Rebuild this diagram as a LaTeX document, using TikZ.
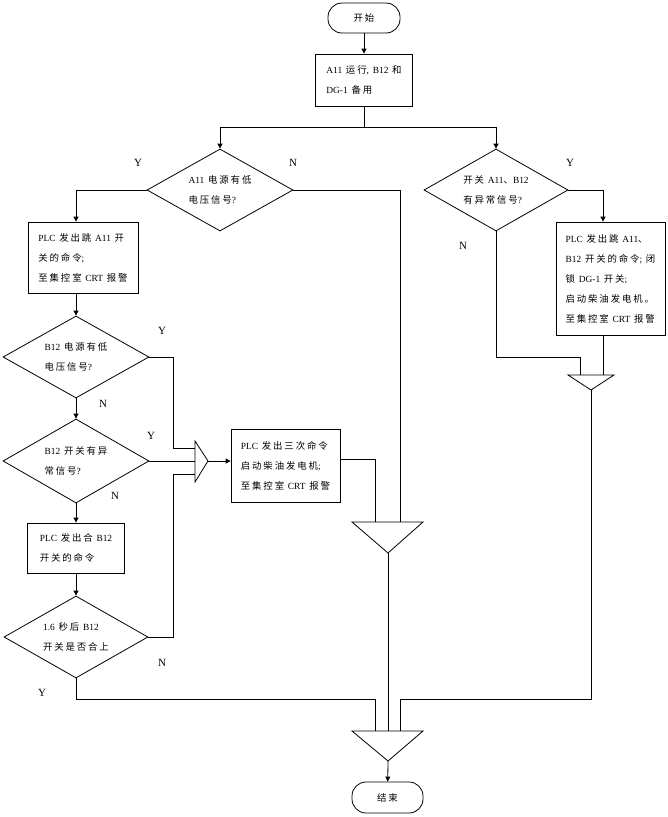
\documentclass[tikz,border=0pt]{standalone}
\usepackage{fontspec}
\setmainfont{Liberation Serif}[WordSpace=1.6]
\newfontfamily\cjk[LetterSpace=20]{Noto Sans CJK SC}
\newcommand{\zh}[1]{{\cjk #1}}
\usetikzlibrary{arrows.meta}
\usetikzlibrary{shapes.geometric}

\begin{document}
\begin{tikzpicture}[x=1pt,y=-1pt,line width=0.8pt,
  every node/.style={font=\fontsize{9.4}{20}\selectfont},
  stepbox/.style={draw,rectangle,align=left,inner sep=0pt},
  decision/.style={draw,diamond,align=left,inner sep=0pt,aspect=1.8},
  terminal/.style={draw,rectangle,rounded corners=14pt,minimum width=72pt,minimum height=30pt},
  yn/.style={font=\fontsize{11}{11}\selectfont},
  flow/.style={-{Triangle[length=5pt,width=5pt]}}]
\useasboundingbox (0,0) rectangle (667,817);

\node[terminal] (start) at (364,18) {\zh{开始}};
\node[stepbox,minimum width=97pt,minimum height=52pt] (a1) at (364,80) {A11 \zh{运行}, B12 \zh{和}\\DG-1 \zh{备用}};
\coordinate (br) at (364,127);

\node[decision,minimum width=146pt,minimum height=82pt] (dA11) at (220,190) {A11 \zh{电源有低}\\\zh{电压信号}?};
\node[decision,minimum width=144pt,minimum height=82pt] (dSw) at (496,190) {\zh{开关} A11\zh{、}B12\\\zh{有异常信号}?};

\node[stepbox,minimum width=110pt,minimum height=71pt] (trip) at (83,257.5) {PLC \zh{发出跳} A11 \zh{开}\\\zh{关的命令};\\\zh{至集控室} CRT \zh{报警}};
\node[stepbox,minimum width=109pt,minimum height=113pt] (alarm) at (610.5,278.5) {PLC \zh{发出跳} A11\zh{、}\\B12 \zh{开关的命令}; \zh{闭}\\\zh{锁} DG-1 \zh{开关};\\\zh{启动柴油发电机。}\\\zh{至集控室} CRT \zh{报警}};

\node[decision,minimum width=146pt,minimum height=82pt] (dB12v) at (76,357) {B12 \zh{电源有低}\\\zh{电压信号}?};
\node[decision,minimum width=146pt,minimum height=84pt] (dB12s) at (76,461) {B12 \zh{开关有异}\\\zh{常信号}?};
\node[stepbox,minimum width=97pt,minimum height=50pt] (close) at (76,548) {PLC \zh{发出合} B12\\\zh{开关的命令}};
\node[decision,minimum width=144pt,minimum height=82pt] (d16) at (76,637) {1.6 \zh{秒后} B12\\\zh{开关是否合上}};

\node[stepbox,minimum width=109pt,minimum height=73pt] (start3) at (285.5,465.5) {PLC \zh{发出三次命令}\\\zh{启动柴油发电机};\\\zh{至集控室} CRT \zh{报警}};
\node[terminal,minimum width=71pt,minimum height=31pt] (end) at (387.5,797.5) {\zh{结束}};

% merge triangles
\coordinate (ltT) at (195,441); \coordinate (ltB) at (195,482); \coordinate (ltA) at (208,461);
\coordinate (ltIn1) at (195,448); \coordinate (ltIn2) at (195,461); \coordinate (ltIn3) at (195,474);
\draw (ltT) -- (ltA) -- (ltB) -- cycle;
\coordinate (rtL) at (568,375); \coordinate (rtR) at (614,375); \coordinate (rtA) at (591,390);
\coordinate (rtIn1) at (580,375); \coordinate (rtIn2) at (603,375);
\draw (rtL) -- (rtR) -- (rtA) -- cycle;
\coordinate (mtL) at (352,522); \coordinate (mtR) at (423,522); \coordinate (mtA) at (388,553);
\coordinate (mtIn1) at (375,522); \coordinate (mtIn2) at (400,522);
\draw (mtL) -- (mtR) -- (mtA) -- cycle;
\coordinate (btL) at (352,731); \coordinate (btR) at (423,731); \coordinate (btA) at (388,761);
\coordinate (btIn1) at (375,731); \coordinate (btIn2) at (388,731); \coordinate (btIn3) at (400,731);
\draw (btL) -- (btR) -- (btA) -- cycle;
\coordinate (low) at (0,699);

\draw[flow] (start) -- (a1);
\draw (a1) -- (br);
\draw[flow] (br) -| (dA11.north);
\draw[flow] (br) -| (dSw.north);
\draw[flow] (dA11.west) -| (dB12v.north |- trip.north);
\draw (dA11.east) -| (mtIn2);
\draw[flow] (dSw.east) -| ([xshift=-7.5pt]alarm.north);
\draw (dSw.south) -- ++(0,126) -| (rtIn1);
\draw ([xshift=-7.5pt]alarm.south) -- (rtIn2);
\draw (rtA) |- (btIn3 |- low) -- (btIn3);

\draw[flow] (dB12v.north |- trip.south) -- (dB12v.north);
\draw[flow] (dB12v) -- (dB12s);
\draw (dB12v.east) -- ++(24,0) |- (ltIn1);
\draw (dB12s.east) -- (ltIn2);
\draw[flow] (dB12s) -- (close);
\draw[flow] (close) -- (d16);
\draw (d16.east) -- ++(25,0) |- (ltIn3);
\draw (d16.south) |- (btIn1 |- low) -- (btIn1);
\draw[flow] (ltA) -- (ltA -| start3.west);
\draw ([yshift=6pt]start3.east) -| (mtIn1);
\draw (mtA) -- (btIn2);
\draw[flow] (btA) -- (end);

\node[yn] (yA) at (138,163) {Y};
\node[yn] (nA) at (293,163) {N};
\node[yn] (yS) at (570,163) {Y};
\node[yn] (nS) at (463,246) {N};
\node[yn] (yV) at (162,331) {Y};
\node[yn] (nV) at (103,404) {N};
\node[yn] (yB) at (151,436) {Y};
\node[yn] (nB) at (115,496) {N};
\node[yn] (n16) at (162,663) {N};
\node[yn] (y16) at (42,693) {Y};
\end{tikzpicture}
\end{document}
